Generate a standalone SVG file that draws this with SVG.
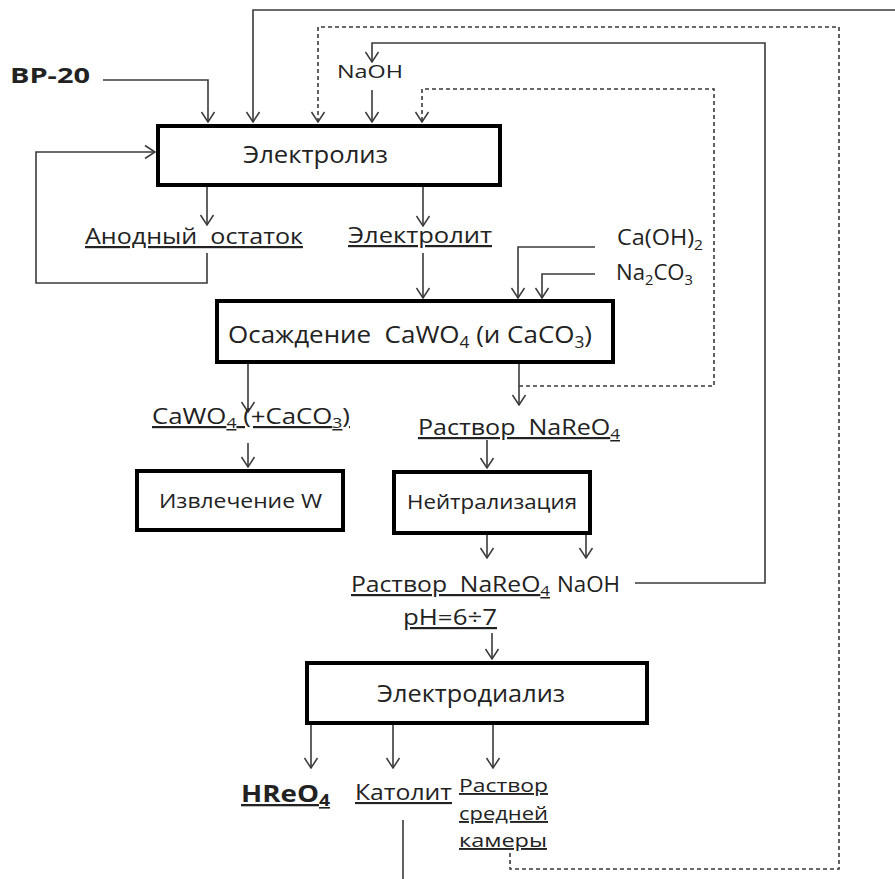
<svg xmlns="http://www.w3.org/2000/svg" width="895" height="879" viewBox="0 0 895 879">
<defs>
<style>
.box{fill:#fff;stroke:#000;stroke-width:4}
.ln{fill:none;stroke:#3a3a3a;stroke-width:1.6}
.ds{fill:none;stroke:#3a3a3a;stroke-width:1.6;stroke-dasharray:4 3}
text{font-family:"Open Sans","Liberation Sans",sans-serif;fill:#222}
.bt{font-size:24px}
.sb{font-size:20px}
.lb{font-size:22px}
.u{text-decoration:underline}
.bold{font-weight:bold}
</style>
<marker id="arr" viewBox="-11 -8 12 16" refX="0" refY="0" markerWidth="12" markerHeight="16" markerUnits="userSpaceOnUse" orient="auto">
<path d="M-10,-6.5 L0,0 L-10,6.5" fill="none" stroke="#3a3a3a" stroke-width="1.5"/>
</marker>
</defs>
<rect width="895" height="879" fill="#fff"/>

<g id="connectors">
<path class="ln" d="M103,80 H208 V122" marker-end="url(#arr)"/>
<path class="ln" d="M895,10 H253 V122" marker-end="url(#arr)"/>
<path class="ln" d="M635,583 H765 V43 H372 V62" marker-end="url(#arr)"/>
<path class="ln" d="M372,90 V122" marker-end="url(#arr)"/>
<path class="ln" d="M207,187 V225" marker-end="url(#arr)"/>
<path class="ln" d="M207,253 V283 H36 V152 H155" marker-end="url(#arr)"/>
<path class="ln" d="M423,187 V226" marker-end="url(#arr)"/>
<path class="ln" d="M423,253 V298" marker-end="url(#arr)"/>
<path class="ln" d="M595,247 H518 V298" marker-end="url(#arr)"/>
<path class="ln" d="M595,274 H542 V298" marker-end="url(#arr)"/>
<path class="ln" d="M248,364 V412" marker-end="url(#arr)"/>
<path class="ln" d="M248,443 V467" marker-end="url(#arr)"/>
<path class="ln" d="M519,364 V405" marker-end="url(#arr)"/>
<path class="ln" d="M487,440 V468" marker-end="url(#arr)"/>
<path class="ln" d="M487,535 V558" marker-end="url(#arr)"/>
<path class="ln" d="M586,535 V558" marker-end="url(#arr)"/>
<path class="ln" d="M492,633 V659" marker-end="url(#arr)"/>
<path class="ln" d="M311,725 V768" marker-end="url(#arr)"/>
<path class="ln" d="M393,725 V768" marker-end="url(#arr)"/>
<path class="ln" d="M493,725 V768" marker-end="url(#arr)"/>
<path class="ln" d="M403,820 V879"/>
<path class="ds" d="M519,386 H714 V89 H422 V122" marker-end="url(#arr)"/>
<path class="ds" d="M510,853 V869 H839 V27 H318 V122" marker-end="url(#arr)"/>
</g>

<g id="vr20"><text class="lb bold" x="10" y="83" textLength="80" lengthAdjust="spacingAndGlyphs">ВР-20</text></g>
<g id="naoh-top"><text x="337" y="78" font-size="19" textLength="66" lengthAdjust="spacingAndGlyphs">NaOH</text></g>

<g id="electrolysis">
<rect class="box" x="158" y="126" width="342" height="59"/>
<text class="bt" x="243" y="163" textLength="145" lengthAdjust="spacingAndGlyphs">Электролиз</text>
</g>

<g id="anode"><text class="lb u" x="85" y="244" textLength="218" lengthAdjust="spacingAndGlyphs">Анодный&#160; остаток</text></g>
<g id="electrolyte"><text class="lb u" x="348" y="243" textLength="144" lengthAdjust="spacingAndGlyphs">Электролит</text></g>
<g id="caoh2"><text x="617" y="245" font-size="21" textLength="86" lengthAdjust="spacingAndGlyphs">Ca(OH)<tspan font-size="14" dy="5">2</tspan></text></g>
<g id="na2co3"><text x="616" y="280" font-size="21" textLength="77" lengthAdjust="spacingAndGlyphs">Na<tspan font-size="14" dy="5">2</tspan><tspan dy="-5">CO</tspan><tspan font-size="14" dy="5">3</tspan></text></g>

<g id="precipitation">
<rect class="box" x="217" y="301" width="396" height="61"/>
<text class="bt" x="228" y="343" textLength="364" lengthAdjust="spacingAndGlyphs">Осаждение&#160; CaWO<tspan font-size="16" dy="5">4</tspan><tspan dy="-5"> (и CaCO</tspan><tspan font-size="16" dy="5">3</tspan><tspan dy="-5">)</tspan></text>
</g>

<g id="cawo4"><text class="lb u" x="152" y="424" textLength="198" lengthAdjust="spacingAndGlyphs">CaWO<tspan font-size="15" dy="4">4</tspan><tspan dy="-4"> (+CaCO</tspan><tspan font-size="15" dy="4">3</tspan><tspan dy="-4">)</tspan></text></g>
<g id="nareo4-1"><text class="lb u" x="418" y="435" textLength="202" lengthAdjust="spacingAndGlyphs">Раствор&#160; NaReO<tspan font-size="15" dy="4">4</tspan></text></g>

<g id="w-extraction">
<rect class="box" x="137" y="471" width="206" height="59"/>
<text class="sb" x="159" y="508" textLength="163" lengthAdjust="spacingAndGlyphs">Извлечение W</text>
</g>

<g id="neutralization">
<rect class="box" x="394" y="472" width="196" height="61"/>
<text class="sb" x="407" y="509" textLength="170" lengthAdjust="spacingAndGlyphs">Нейтрализация</text>
</g>

<g id="nareo4-2">
<text class="lb u" x="351" y="592" textLength="199" lengthAdjust="spacingAndGlyphs">Раствор&#160; NaReO<tspan font-size="15" dy="4">4</tspan></text>
<text class="lb u" x="403" y="625" textLength="94" lengthAdjust="spacingAndGlyphs">pH=6÷7</text>
</g>
<g id="naoh-2"><text x="557" y="592" font-size="21" textLength="63" lengthAdjust="spacingAndGlyphs">NaOH</text></g>

<g id="electrodialysis">
<rect class="box" x="307" y="663" width="340" height="60"/>
<text class="bt" x="377" y="702" textLength="188" lengthAdjust="spacingAndGlyphs">Электродиализ</text>
</g>

<g id="hreo4"><text class="u bold" x="241" y="802" font-size="23" textLength="89" lengthAdjust="spacingAndGlyphs">HReO<tspan font-size="16" dy="4">4</tspan></text></g>
<g id="catholyte"><text class="u" x="355" y="800" font-size="21" textLength="97" lengthAdjust="spacingAndGlyphs">Католит</text></g>
<g id="middle-chamber">
<text class="u" x="459" y="792" font-size="19" textLength="89" lengthAdjust="spacingAndGlyphs">Раствор</text>
<text class="u" x="459" y="820" font-size="19" textLength="89" lengthAdjust="spacingAndGlyphs">средней</text>
<text class="u" x="459" y="847" font-size="19" textLength="88" lengthAdjust="spacingAndGlyphs">камеры</text>
</g>
</svg>
